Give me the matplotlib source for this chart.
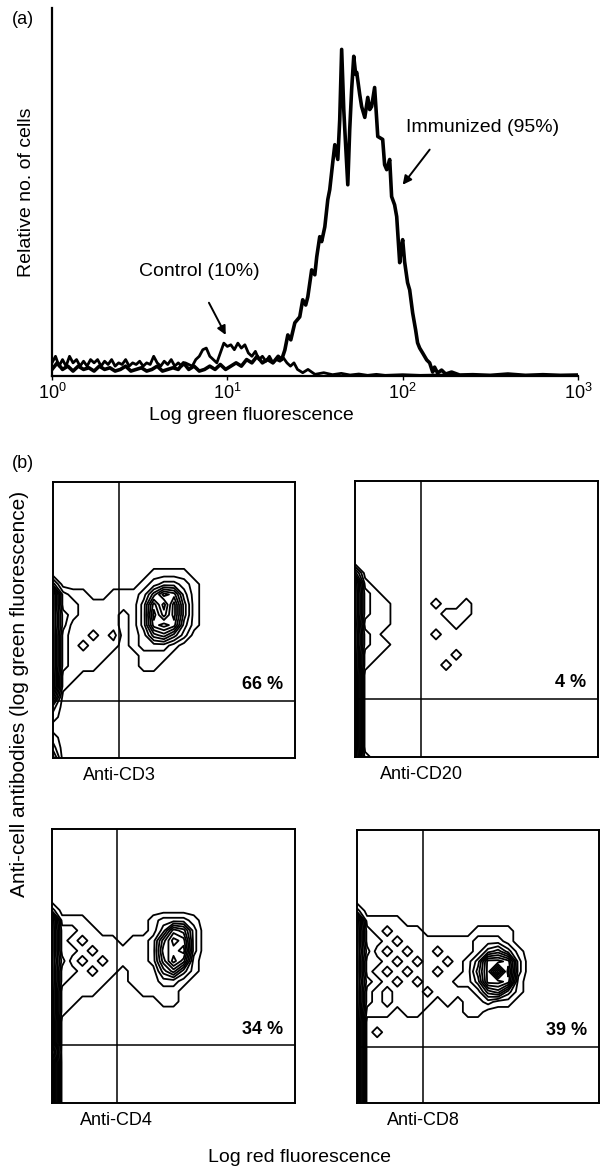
import matplotlib
matplotlib.use("Agg")
import matplotlib.pyplot as plt
import numpy as np

plt.rcParams['font.family'] = ['Liberation Sans', 'DejaVu Sans']

# ---- panel (a): histograms, x in decades (log10 of fluorescence) ----
immunized_logx = [0.00, 0.03, 0.06, 0.09, 0.12, 0.15, 0.18, 0.21, 0.24, 0.27, 0.30, 0.33, 0.36, 0.39,
                  0.42, 0.45, 0.48, 0.51, 0.54, 0.57, 0.60, 0.63, 0.66, 0.69, 0.72, 0.75, 0.78, 0.81,
                  0.84, 0.87, 0.90, 0.93, 0.96, 0.99, 1.02, 1.05, 1.08, 1.11, 1.14, 1.17, 1.20, 1.23,
                  1.26, 1.29, 1.31, 1.328, 1.345, 1.362, 1.385, 1.413, 1.430, 1.447, 1.459, 1.481,
                  1.499, 1.510, 1.527, 1.538, 1.556, 1.573, 1.584, 1.601, 1.613, 1.630, 1.641, 1.652,
                  1.664, 1.670, 1.687, 1.698, 1.709, 1.721, 1.732, 1.738, 1.755, 1.766, 1.784, 1.801,
                  1.812, 1.823, 1.840, 1.852, 1.858, 1.886, 1.897, 1.909, 1.926, 1.937, 1.954, 1.966,
                  1.983, 1.994, 2.000, 2.011, 2.028, 2.040, 2.057, 2.074, 2.085, 2.097, 2.114, 2.137,
                  2.154, 2.171, 2.182, 2.199, 2.222, 2.245, 2.279, 2.325, 2.40, 2.50, 2.60, 2.70,
                  2.80, 2.90, 3.00]
immunized_val = [0.02, 0.04, 0.02, 0.03, 0.015, 0.03, 0.02, 0.025, 0.015, 0.03, 0.02, 0.025, 0.015, 0.02,
                 0.03, 0.015, 0.02, 0.025, 0.015, 0.02, 0.03, 0.015, 0.02, 0.025, 0.02, 0.04, 0.02, 0.03,
                 0.015, 0.02, 0.03, 0.02, 0.035, 0.02, 0.03, 0.04, 0.03, 0.05, 0.04, 0.06, 0.04, 0.05,
                 0.04, 0.06, 0.05, 0.079, 0.125, 0.110, 0.162, 0.180, 0.232, 0.216, 0.241, 0.323,
                 0.308, 0.363, 0.424, 0.409, 0.454, 0.537, 0.567, 0.649, 0.704, 0.659, 0.780, 0.994,
                 0.811, 0.750, 0.582, 0.750, 0.872, 0.973, 0.918, 0.924, 0.857, 0.820, 0.787, 0.848,
                 0.811, 0.820, 0.878, 0.780, 0.729, 0.720, 0.643, 0.628, 0.659, 0.546, 0.521, 0.485,
                 0.345, 0.399, 0.415, 0.348, 0.284, 0.262, 0.192, 0.140, 0.101, 0.085, 0.070, 0.049,
                 0.040, 0.012, 0.027, 0.009, 0.018, 0.006, 0.012, 0.003, 0.004, 0.002, 0.006, 0.002,
                 0.004, 0.002, 0.003]

control_logx = [0.00, 0.02, 0.04, 0.06, 0.08, 0.10, 0.12, 0.14, 0.16, 0.18, 0.20, 0.22, 0.24, 0.26,
                0.28, 0.30, 0.32, 0.34, 0.36, 0.38, 0.40, 0.42, 0.44, 0.46, 0.48, 0.50, 0.52, 0.54,
                0.56, 0.58, 0.60, 0.62, 0.64, 0.66, 0.68, 0.70, 0.72, 0.74, 0.76, 0.78, 0.80, 0.82,
                0.84, 0.86, 0.88, 0.90, 0.92, 0.94, 0.96, 0.98, 1.00, 1.02, 1.04, 1.06, 1.08, 1.10,
                1.12, 1.14, 1.16, 1.18, 1.20, 1.22, 1.24, 1.26, 1.28, 1.30, 1.32, 1.34, 1.36, 1.38,
                1.40, 1.43, 1.46, 1.50, 1.55, 1.60, 1.65, 1.70, 1.75, 1.80, 1.85, 1.90, 2.00, 2.10,
                2.20, 2.30, 2.50, 3.00]
control_val = [0.04, 0.06, 0.03, 0.05, 0.03, 0.06, 0.04, 0.05, 0.03, 0.045, 0.03, 0.05, 0.04, 0.05,
               0.03, 0.045, 0.035, 0.05, 0.03, 0.04, 0.035, 0.05, 0.03, 0.04, 0.035, 0.045, 0.03, 0.04,
               0.035, 0.06, 0.04, 0.03, 0.045, 0.035, 0.05, 0.03, 0.04, 0.03, 0.04, 0.035, 0.03, 0.05,
               0.06, 0.08, 0.085, 0.06, 0.05, 0.04, 0.07, 0.10, 0.09, 0.095, 0.08, 0.10, 0.085, 0.095,
               0.07, 0.06, 0.075, 0.05, 0.06, 0.045, 0.06, 0.04, 0.05, 0.045, 0.055, 0.04, 0.03, 0.04,
               0.02, 0.01, 0.02, 0.005, 0.01, 0.004, 0.008, 0.003, 0.006, 0.002, 0.005, 0.002, 0.004, 0.002,
               0.003, 0.002, 0.001, 0.001]

decade_ticks = [0, 1, 2, 3]

# ---- panel (b): contour density grids, digit = density level (top row first) ----
cd3_grid = [
    "0000000000000000000000000",
    "0000000000000000000000000",
    "0000000000000000000000000",
    "0000000000000000000000000",
    "0000000000000000000000000",
    "0000000000000000000000000",
    "0000000000000000000000000",
    "0000000000000000000000000",
    "0000000000000000000000000",
    "0000000000111100000000000",
    "3000000001233210000000000",
    "9211001112587310000000000",
    "9221111113859410000000000",
    "9321111013969410000000000",
    "9311111013898310000000000",
    "9211212012564200000000000",
    "9212111012221000000000000",
    "9211110001110000000000000",
    "9211100001100000000000000",
    "9110000000000000000000000",
    "9100000000000000000000000",
    "6000000000000000000000000",
    "2000000000000000000000000",
    "1000000000000000000000000",
    "0000000000000000000000000",
    "1000000000000000000000000",
    "2000000000000000000000000",
    "4000000000000000000000000",
]
cd20_grid = [
    "0000000000000000000000000",
    "0000000000000000000000000",
    "0000000000000000000000000",
    "0000000000000000000000000",
    "0000000000000000000000000",
    "0000000000000000000000000",
    "0000000000000000000000000",
    "0000000000000000000000000",
    "0000000000000000000000000",
    "4000000000000000000000000",
    "9100000000000000000000000",
    "9210000000000000000000000",
    "9211000010010000000000000",
    "9211000001110000000000000",
    "9111000000100000000000000",
    "9210000010000000000000000",
    "9211000000000000000000000",
    "9110000000100000000000000",
    "9100000001000000000000000",
    "9000000000000000000000000",
    "9000000000000000000000000",
    "9000000000000000000000000",
    "9000000000000000000000000",
    "9000000000000000000000000",
    "9000000000000000000000000",
    "9000000000000000000000000",
    "9000000000000000000000000",
    "9100000000000000000000000",
]
cd4_grid = [
    "0000000000000000000000000",
    "0000000000000000000000000",
    "0000000000000000000000000",
    "0000000000000000000000000",
    "0000000000000000000000000",
    "0000000000000000000000000",
    "0000000000000000000000000",
    "0000000000000000000000000",
    "2000000000000000000000000",
    "9111000000122210000000000",
    "9221100000137620000000000",
    "9212111011269820000000000",
    "9221211111278920000000000",
    "9312121111269710000000000",
    "9221211011146310000000000",
    "9211110011122100000000000",
    "9111100001111000000000000",
    "9110000000011000000000000",
    "9100000000000000000000000",
    "9000000000000000000000000",
    "9000000000000000000000000",
    "9000000000000000000000000",
    "7000000000000000000000000",
    "9000000000000000000000000",
    "9000000000000000000000000",
    "9000000000000000000000000",
    "9000000000000000000000000",
    "9000000000000000000000000",
]
cd8_grid = [
    "0000000000000000000000000",
    "0000000000000000000000000",
    "0000000000000000000000000",
    "0000000000000000000000000",
    "0000000000000000000000000",
    "0000000000000000000000000",
    "0000000000000000000000000",
    "0000000000000000000000000",
    "2000000000000000000000000",
    "9111100000000000000000000",
    "9212111000001111000000000",
    "9221211111112221000000000",
    "9312121121112453100000000",
    "9221212112124998200000000",
    "9212121121125949200000000",
    "9321212111224998100000000",
    "9212111211112563100000000",
    "9212111101011211000000000",
    "9111011000011000000000000",
    "9000000000000000000000000",
    "9010000000000000000000000",
    "9000000000000000000000000",
    "9000000000000000000000000",
    "9000000000000000000000000",
    "9000000000000000000000000",
    "9000000000000000000000000",
    "9000000000000000000000000",
    "9000000000000000000000000",
]
panel_grids = [cd3_grid, cd20_grid, cd4_grid, cd8_grid]
panel_names = ["Anti-CD3", "Anti-CD20", "Anti-CD4", "Anti-CD8"]
panel_percents = ["66 %", "4 %", "34 %", "39 %"]
quad_x = [0.273, 0.272, 0.267, 0.273]
quad_y = [0.207, 0.21, 0.21, 0.205]

W, H = 600, 1172
fig = plt.figure(figsize=(W / 100, H / 100), dpi=100)


def box(left, top, right, bottom):
    return [left / W, 1 - bottom / H, (right - left) / W, (bottom - top) / H]


# ---- (a) ----
ax = fig.add_axes(box(52, 8, 578, 376))
ax.plot(10 ** np.array(control_logx), control_val, color="black", lw=2.0)
ax.plot(10 ** np.array(immunized_logx), immunized_val, color="black", lw=2.6)
ax.set_xscale("log")
ax.set_xlim(1, 1000)
ax.set_ylim(0, 1.12)
ax.spines["top"].set_visible(False)
ax.spines["right"].set_visible(False)
ax.spines["left"].set_linewidth(1.6)
ax.spines["bottom"].set_linewidth(1.6)
ax.set_yticks([])
ax.set_xticks([10 ** d for d in decade_ticks])
ax.set_xticklabels([r"$\mathregular{10^{%d}}$" % d for d in decade_ticks], fontsize=13)
ax.xaxis.set_minor_locator(matplotlib.ticker.NullLocator())
ax.tick_params(axis="x", length=3, width=1, direction="out", pad=2)
ax.set_ylabel("Relative no. of cells", fontsize=14, labelpad=12)

arrow = dict(arrowstyle="-|>", color="black", lw=1.4, mutation_scale=13, shrinkA=0, shrinkB=0)
ax.text(10 ** 2.456, 0.756, "Immunized (95%)", fontsize=14, ha="center", va="center")
ax.annotate("", xy=(10 ** 2.0, 0.582), xytext=(10 ** 2.154, 0.689), arrowprops=arrow)
ax.text(10 ** 0.843, 0.317, "Control (10%)", fontsize=14, ha="center", va="center")
ax.annotate("", xy=(10 ** 0.991, 0.125), xytext=(10 ** 0.895, 0.223), arrowprops=arrow)
fig.text(251 / W, 1 - 416 / H, "Log green fluorescence", fontsize=14, ha="center", va="center")
fig.text(12 / W, 1 - 19 / H, "(a)", fontsize=13, va="center")

# ---- (b) ----
boxes = [box(53, 482, 295, 758), box(355, 481, 598, 757),
         box(52, 829, 295, 1103), box(357, 830, 599, 1103)]
levels = [0.5, 1.5, 2.5, 3.5, 4.5, 5.5, 6.5, 7.5, 8.5]
for grid, name, pct, qx, qy, pos in zip(panel_grids, panel_names, panel_percents, quad_x, quad_y, boxes):
    bx = fig.add_axes(pos)
    Z = np.array([[int(c) for c in row] for row in grid], dtype=float)[::-1]
    xs = np.linspace(0, 1, Z.shape[1])
    ys = np.linspace(0, 1, Z.shape[0])
    bx.contour(xs, ys, Z, levels=levels, colors="black", linewidths=1.3)
    bx.axvline(qx, color="black", lw=1.1)
    bx.axhline(qy, color="black", lw=1.1)
    bx.set_xlim(0, 1)
    bx.set_ylim(0, 1)
    bx.set_xticks([])
    bx.set_yticks([])
    for s in bx.spines.values():
        s.set_linewidth(1.4)
    bx.text(0.95, qy + 0.06, pct, transform=bx.transAxes, ha="right", va="center",
            fontsize=13, fontweight="bold")
    bx.text(qx, -0.065, name, transform=bx.transAxes, ha="center", va="center", fontsize=13)

fig.text(12 / W, 1 - 463 / H, "(b)", fontsize=13, va="center")
fig.text(20 / W, 1 - 694 / H, "Anti-cell antibodies (log green fluorescence)", rotation=90,
         fontsize=15, ha="center", va="center")
fig.text(300 / W, 1 - 1158 / H, "Log red fluorescence", fontsize=14, ha="center", va="center")

fig.savefig("out.png", dpi=100)
